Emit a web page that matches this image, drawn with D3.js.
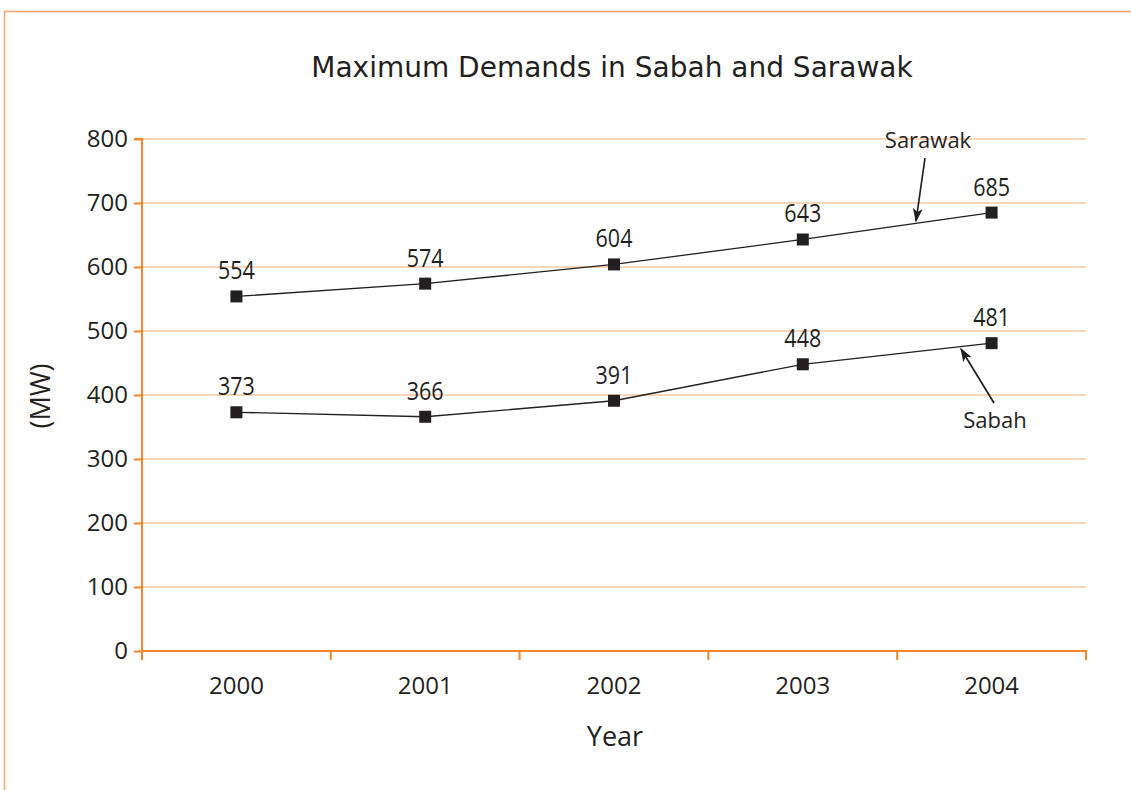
<!DOCTYPE html>
<html>
<head>
<meta charset="utf-8">
<script src="https://d3js.org/d3.v7.min.js"></script>
<style>
  body { margin: 0; background: #fff; }
  svg text { font-family: "Open Sans", "DejaVu Sans", sans-serif; fill: #231f20; }
</style>
</head>
<body>
<div id="chart"></div>
<script>
// data
var years = ["2000", "2001", "2002", "2003", "2004"];
var sarawak = [554, 574, 604, 643, 685];
var sabah = [373, 366, 391, 448, 481];
var yTicks = [0, 100, 200, 300, 400, 500, 600, 700, 800];

var width = 1131, height = 790;
var plotL = 142, plotR = 1086, plotT = 139, plotB = 651;

var svg = d3.select("#chart").append("svg")
  .attr("width", width).attr("height", height);

// frame
svg.append("path")
  .attr("d", "M4.5," + height + "V11.5H" + width)
  .attr("fill", "none").attr("stroke", "#f9a468").attr("stroke-width", 1.5);

var x = d3.scaleBand().domain(years).range([plotL, plotR]);
var y = d3.scaleLinear().domain([0, 800]).range([plotB, plotT]);

// grid
svg.append("g").selectAll("line")
  .data(yTicks.slice(1)).enter().append("line")
  .attr("x1", plotL).attr("x2", plotR)
  .attr("y1", function(d) { return y(d); }).attr("y2", function(d) { return y(d); })
  .attr("stroke", "#fbc9a0").attr("stroke-width", 1.5);

// y axis
var yAxis = svg.append("g").attr("transform", "translate(" + plotL + ",0)")
  .call(d3.axisLeft(y).tickValues(yTicks).tickSize(8).tickPadding(6));
yAxis.select(".domain").attr("stroke", "#f7862a").attr("stroke-width", 2)
  .attr("d", "M-8," + plotT + "H0V" + (plotB + 9));
yAxis.selectAll(".tick line").attr("stroke", "#f7862a").attr("stroke-width", 2);
yAxis.selectAll(".tick text").style("font-size", "24px").attr("fill", "#231f20");

// x axis
var xAxis = svg.append("g").attr("transform", "translate(0," + plotB + ")")
  .call(d3.axisBottom(x).tickSize(0).tickPadding(26));
xAxis.select(".domain").attr("stroke", "#f7862a").attr("stroke-width", 2)
  .attr("d", "M" + plotL + ",0H" + plotR + "V9");
xAxis.selectAll(".tick text").style("font-size", "24px").attr("fill", "#231f20");
xAxis.selectAll(".sep").data(years.slice(1)).enter().append("line")
  .attr("class", "sep")
  .attr("x1", function(d) { return x(d); }).attr("x2", function(d) { return x(d); })
  .attr("y1", 0).attr("y2", 9)
  .attr("stroke", "#f7862a").attr("stroke-width", 2);

// title & axis titles
svg.append("text").attr("x", 612).attr("y", 77).attr("text-anchor", "middle")
  .style("font-size", "28px").style("font-family", "'DejaVu Sans', sans-serif")
  .text("Maximum Demands in Sabah and Sarawak");
svg.append("text").attr("transform", "translate(50,396) rotate(-90)")
  .attr("text-anchor", "middle").style("font-size", "27px").text("(MW)");
svg.append("text").attr("x", 615).attr("y", 746).attr("text-anchor", "middle")
  .style("font-size", "27px").text("Year");

// series
var cx = function(i) { return x(years[i]) + x.bandwidth() / 2; };
var line = d3.line()
  .x(function(d, i) { return cx(i); })
  .y(function(d) { return y(d); });

[sarawak, sabah].forEach(function(s) {
  svg.append("path").datum(s).attr("d", line)
    .attr("fill", "none").attr("stroke", "#231f20").attr("stroke-width", 1.3);
  var g = svg.append("g");
  g.selectAll("rect").data(s).enter().append("rect")
    .attr("x", function(d, i) { return cx(i) - 6; })
    .attr("y", function(d) { return y(d) - 6; })
    .attr("width", 12).attr("height", 12).attr("fill", "#231f20");
  g.selectAll("text").data(s).enter().append("text")
    .attr("transform", function(d, i) {
      return "translate(" + cx(i) + "," + (y(d) - 17) + ") scale(0.86,1)";
    })
    .attr("text-anchor", "middle").style("font-size", "25px")
    .text(function(d) { return d; });
});

// annotations
svg.append("defs").append("marker").attr("id", "arr")
  .attr("viewBox", "0 0 10 10").attr("refX", 9).attr("refY", 5)
  .attr("markerWidth", 14).attr("markerHeight", 14).attr("orient", "auto")
  .attr("markerUnits", "userSpaceOnUse")
  .append("path").attr("d", "M0,1.5L10,5L0,8.5L2.5,5Z").attr("fill", "#231f20");

svg.append("text").attr("x", 928).attr("y", 148).attr("text-anchor", "middle")
  .style("font-size", "22px").text("Sarawak");
svg.append("line").attr("x1", 925).attr("y1", 158).attr("x2", 916).attr("y2", 221)
  .attr("stroke", "#231f20").attr("stroke-width", 1.7).attr("marker-end", "url(#arr)");

svg.append("text").attr("x", 995).attr("y", 428).attr("text-anchor", "middle")
  .style("font-size", "22px").text("Sabah");
svg.append("line").attr("x1", 994).attr("y1", 403).attr("x2", 961).attr("y2", 349)
  .attr("stroke", "#231f20").attr("stroke-width", 1.7).attr("marker-end", "url(#arr)");
</script>
</body>
</html>
